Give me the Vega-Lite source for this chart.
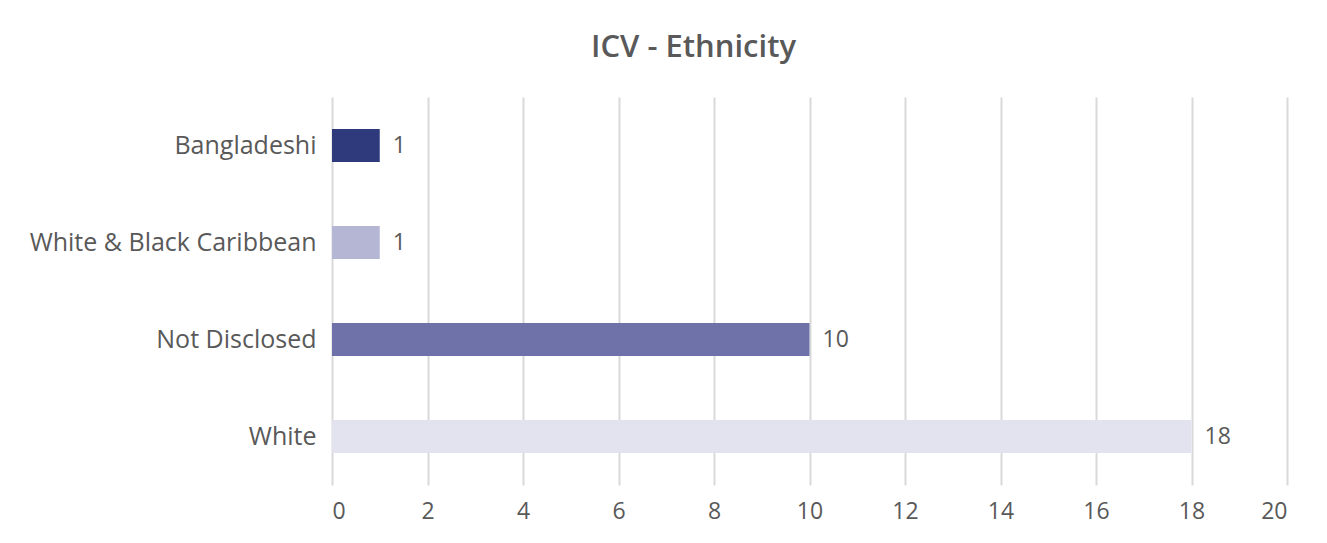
{
  "$schema": "https://vega.github.io/schema/vega-lite/v6.json",
  "width": 955,
  "height": 388,
  "autosize": "none",
  "padding": {"left": 332, "top": 97, "right": 40, "bottom": 58},
  "background": "white",
  "title": {
    "text": "ICV - Ethnicity",
    "font": "Open Sans",
    "fontSize": 31,
    "fontWeight": 600,
    "color": "#595959",
    "anchor": "middle",
    "dx": -116,
    "offset": 33
  },
  "data": {
    "values": [
      {"ethnicity": "Bangladeshi", "count": 1},
      {"ethnicity": "White & Black Caribbean", "count": 1},
      {"ethnicity": "Not Disclosed", "count": 10},
      {"ethnicity": "White", "count": 18}
    ]
  },
  "encoding": {
    "y": {
      "field": "ethnicity",
      "type": "nominal",
      "sort": ["Bangladeshi", "White & Black Caribbean", "Not Disclosed", "White"],
      "scale": {"paddingInner": 0.66, "paddingOuter": 0.33},
      "axis": {
        "title": null,
        "domain": false,
        "ticks": false,
        "labelPadding": 16,
        "labelFont": "Open Sans",
        "labelFontSize": 25,
        "labelColor": "#595959",
        "labelLimit": 400
      }
    },
    "x": {
      "field": "count",
      "type": "quantitative",
      "scale": {"domain": [0, 20], "nice": false},
      "axis": {
        "title": null,
        "values": [0, 2, 4, 6, 8, 10, 12, 14, 16, 18, 20],
        "domain": false,
        "ticks": false,
        "labelPadding": 15,
        "labelFont": "Open Sans",
        "labelFontSize": 23,
        "labelColor": "#595959",
        "gridColor": "#D9D9D9",
        "gridWidth": 2
      }
    }
  },
  "layer": [
    {
      "mark": {"type": "bar"},
      "encoding": {
        "color": {
          "field": "ethnicity",
          "type": "nominal",
          "legend": null,
          "scale": {
            "domain": ["Bangladeshi", "White & Black Caribbean", "Not Disclosed", "White"],
            "range": ["#2E3A7C", "#B4B6D4", "#6E72A8", "#E3E3F0"]
          }
        }
      }
    },
    {
      "mark": {"type": "text", "align": "left", "dx": 13, "font": "Open Sans", "fontSize": 23, "color": "#595959"},
      "encoding": {"text": {"field": "count", "type": "quantitative"}}
    }
  ],
  "config": {"view": {"stroke": null}}
}
